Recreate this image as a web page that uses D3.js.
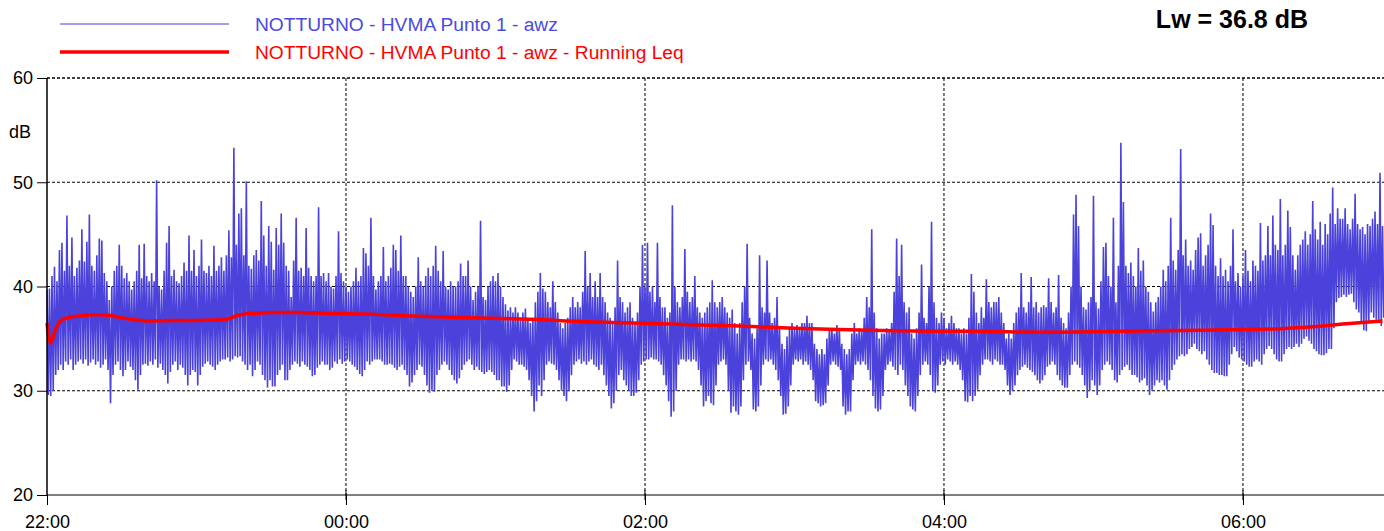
<!DOCTYPE html>
<html lang="it">
<head>
<meta charset="UTF-8">
<title>NOTTURNO - HVMA Punto 1</title>
<script src="https://d3js.org/d3.v7.min.js"></script>
<style>
  body { margin: 0; background: #fff; }
  svg { display: block; font-family: "Liberation Sans", Arial, sans-serif; }
  .asse text { font-size: 18px; fill: #000; }
  .asse line { stroke: #000; }
</style>
</head>
<body>
<svg id="grafico"></svg>
<script>
// dati: un valore max e min per ogni minuto dalle 22:00
const livelliMax = [
  39.7,39.8,41.0,41.9,40.5,43.5,44.2,41.5,46.8,42.0, 44.7,41.0,41.8,42.5,45.5,42.4,44.3,46.9,42.0,41.5,
  43.0,44.6,44.4,41.3,40.5,38.7,40.0,41.5,42.0,44.0, 42.0,40.8,41.3,40.5,39.7,40.5,41.5,44.0,40.8,44.1,
  41.0,40.5,41.3,40.5,50.2,40.0,39.7,41.5,44.2,45.8, 41.0,41.6,40.5,40.3,41.0,42.3,41.5,44.9,41.5,43.5,
  41.0,42.0,44.5,41.5,41.3,42.0,41.0,43.9,41.5,42.0, 42.8,41.5,43.0,45.4,42.8,53.3,44.0,47.0,47.5,43.0,
  50.1,42.0,41.7,43.0,43.5,42.5,48.2,44.9,42.0,45.8, 44.3,41.6,45.6,44.0,47.0,44.2,42.0,41.5,39.0,42.5,
  46.6,41.5,41.8,41.0,45.6,41.8,41.0,40.5,41.0,47.6, 41.0,41.3,40.5,41.3,40.0,39.8,41.0,45.3,41.3,40.5,
  40.0,39.5,40.0,40.5,41.8,40.5,41.0,43.7,43.2,42.0, 46.6,41.0,39.7,40.5,41.0,43.8,40.5,41.0,41.8,44.0,
  43.5,41.5,44.9,41.0,41.0,40.0,39.5,39.0,40.0,42.8, 40.5,40.0,41.0,41.8,41.0,42.0,43.9,41.5,40.5,43.4,
  40.0,39.7,40.5,40.0,40.0,40.5,42.2,41.0,41.0,42.5, 40.0,38.7,39.5,40.0,46.3,39.0,38.7,40.0,40.5,41.0,
  40.5,41.3,40.0,39.0,38.3,37.7,38.0,37.5,38.0,37.5, 37.0,37.5,37.9,37.0,36.5,37.0,38.5,39.5,41.3,39.8,
  39.5,38.5,38.0,40.5,38.5,37.5,36.5,36.0,36.5,37.0, 38.0,39.0,38.0,38.5,38.0,39.5,43.4,40.0,41.3,39.0,
  40.5,39.0,41.3,39.0,38.5,37.5,37.0,36.5,38.0,42.5, 39.0,38.5,37.5,38.0,38.5,37.0,36.5,37.5,40.0,44.0,
  40.0,44.2,39.5,40.0,38.5,44.2,39.0,38.0,38.0,37.0, 37.5,47.8,40.0,38.5,38.0,39.0,43.6,39.5,38.5,39.0,
  41.0,38.0,37.5,37.0,37.5,38.0,38.5,40.6,38.5,38.0, 38.5,39.0,38.0,37.5,37.0,37.8,36.5,35.5,36.5,38.5,
  40.0,44.1,37.0,35.5,35.0,36.0,43.0,38.0,37.5,42.5, 37.5,36.5,37.0,39.0,36.0,34.5,34.0,35.2,36.0,36.5,
  36.0,36.3,36.0,36.5,36.5,37.2,36.5,36.5,34.5,34.0, 33.5,34.0,33.5,35.0,36.0,36.0,35.5,36.3,36.0,34.5,
  34.0,33.5,34.0,35.5,36.5,35.5,36.0,35.8,37.0,39.0, 38.0,45.5,37.5,36.0,35.0,35.5,35.5,36.0,35.8,36.5,
  39.5,44.6,41.0,44.0,38.5,37.5,38.0,35.5,35.0,36.0, 37.5,42.1,37.0,36.5,40.0,46.2,38.5,37.0,36.5,37.5,
  37.0,36.0,36.5,37.2,36.5,36.0,36.0,35.5,36.0,35.5, 37.0,41.2,39.5,37.5,36.5,38.0,37.0,40.7,38.5,38.0,
  38.5,38.5,39.0,37.5,36.5,35.0,35.5,35.0,36.5,37.5, 38.0,41.3,38.0,37.5,38.5,40.9,38.0,38.5,37.5,38.0,
  38.2,38.0,40.8,38.5,37.5,38.0,41.1,37.0,36.5,36.0, 37.5,40.0,46.9,48.8,45.8,40.0,38.0,37.8,38.5,39.0,
  48.7,38.5,37.9,40.5,43.8,44.2,41.0,40.0,46.6,38.5, 42.0,53.8,48.1,42.0,41.3,42.3,41.0,40.0,43.7,41.5,
  42.5,40.0,39.5,38.5,37.6,38.5,39.0,40.0,41.6,40.5, 42.0,46.6,42.5,41.6,43.5,53.2,43.0,44.5,42.0,42.5,
  41.6,43.5,44.7,45.1,42.0,43.0,44.0,47.0,45.9,42.0, 41.0,42.7,41.0,41.6,40.5,42.0,45.5,40.5,41.3,40.0,
  41.0,43.5,41.5,40.5,42.5,42.0,41.5,46.1,42.5,43.0, 45.8,43.0,46.8,44.0,43.5,48.4,43.0,44.0,47.3,45.7,
  43.0,41.6,43.0,44.0,44.5,45.3,44.0,45.0,48.2,45.5, 44.5,46.2,44.0,46.0,45.0,47.0,49.5,46.0,47.5,46.5,
  46.5,47.5,46.0,45.5,46.5,48.9,46.0,45.5,45.7,45.0, 46.0,45.8,46.5,47.2,46.0,50.9,45.8
];
const livelliMin = [
  29.6,29.5,30.0,31.5,32.0,32.5,32.0,32.8,32.5,33.0, 32.0,32.5,32.8,33.0,32.6,33.0,32.4,32.7,33.0,32.5,
  32.8,32.2,32.5,33.0,32.0,28.8,31.5,32.5,32.8,32.0, 31.4,32.0,32.8,32.3,32.0,31.0,30.1,31.5,32.5,32.6,
  32.4,32.8,32.5,33.0,32.2,32.6,32.0,31.5,30.7,31.8, 32.5,32.8,32.0,32.5,32.2,31.5,30.5,31.5,32.0,31.8,
  30.5,31.5,32.3,32.6,32.8,32.5,32.3,32.0,32.5,32.8, 33.0,33.0,33.2,32.8,33.0,33.3,33.2,33.3,32.8,32.5,
  32.0,32.5,31.4,32.0,32.8,32.5,31.5,31.0,30.3,31.0, 30.4,30.4,31.5,32.0,32.5,31.0,31.0,32.0,32.5,32.8,
  32.6,32.3,32.8,32.5,32.3,32.0,31.4,31.5,32.2,32.5, 32.8,32.5,32.5,32.0,32.2,32.8,32.6,33.0,32.6,32.8,
  33.0,32.8,32.5,32.3,32.0,31.6,31.4,32.0,32.8,32.5, 32.8,33.0,33.0,33.0,32.8,32.5,32.5,32.6,32.5,32.2,
  32.0,32.3,32.5,32.0,31.5,30.4,30.8,31.5,32.0,32.5, 32.3,31.5,30.5,29.8,30.0,29.9,31.5,32.0,32.5,32.8,
  32.5,32.0,31.5,31.0,30.7,31.2,32.0,32.5,32.8,33.0, 32.5,32.0,32.3,32.0,31.8,31.6,31.8,32.0,31.8,31.5,
  31.0,31.0,30.4,30.4,29.9,30.5,32.0,33.0,32.8,32.5, 32.5,32.3,32.0,31.0,29.5,28.0,29.0,30.5,29.5,31.0,
  32.5,32.8,32.6,32.5,32.0,31.0,30.0,29.5,29.0,30.0, 31.5,32.5,32.8,33.0,32.6,32.8,32.5,32.8,33.0,32.5,
  32.3,32.0,32.5,31.5,30.5,29.5,28.3,28.8,30.0,31.5, 32.0,31.0,30.5,30.0,29.5,29.5,29.8,31.0,32.5,32.8,
  33.0,33.0,33.2,33.0,33.0,32.8,32.5,31.5,30.5,29.0, 27.5,28.0,30.0,32.5,33.0,33.0,32.8,33.0,32.8,33.0,
  32.8,32.0,30.5,28.5,29.0,29.5,28.8,28.6,30.5,32.5, 32.8,33.0,32.5,30.0,27.9,28.5,28.0,27.7,28.5,31.0,
  32.5,32.8,32.0,28.2,28.0,28.5,30.5,32.5,33.0,32.8, 33.0,32.5,32.0,31.0,29.5,27.7,27.8,28.5,30.5,32.5,
  33.0,32.8,33.0,32.5,32.8,32.5,32.0,31.0,29.0,28.8, 28.5,28.6,28.8,30.5,32.5,32.8,32.5,32.3,32.0,28.5,
  27.7,28.0,28.0,31.0,32.5,32.8,32.5,32.8,32.5,32.0, 31.0,29.5,28.3,28.0,28.2,29.5,32.0,32.5,32.8,32.3,
  32.0,31.5,32.5,32.0,30.5,29.5,28.5,28.2,28.0,29.5, 31.5,32.5,32.8,32.5,31.5,30.0,29.8,30.5,32.5,32.8,
  32.5,33.0,32.8,32.5,32.8,32.5,32.0,31.0,29.0,28.9, 29.5,29.0,29.5,30.1,31.5,32.5,33.0,33.0,32.8,32.5,
  33.0,32.8,32.5,32.5,32.0,30.5,29.6,30.0,30.5,31.5, 32.0,32.3,32.5,32.2,32.0,31.8,31.5,31.0,30.7,31.0,
  31.5,32.3,32.5,32.8,32.5,31.5,31.0,30.5,30.3,30.3, 31.5,32.5,32.8,32.5,32.2,31.5,30.5,29.3,30.0,31.0,
  30.5,29.6,30.5,32.0,32.5,32.8,32.5,32.0,31.0,30.8, 31.5,32.0,32.3,32.5,32.0,31.5,31.5,31.3,30.8,31.0,
  31.2,30.5,29.6,30.0,30.5,31.0,30.8,31.0,30.5,30.1, 31.0,32.0,32.5,33.0,33.3,33.5,33.3,33.5,34.0,34.2,
  34.5,34.0,33.8,33.5,33.8,33.0,32.5,32.0,31.7,31.7, 31.5,31.5,31.4,31.4,32.5,33.5,34.2,33.8,33.2,33.0,
  32.8,32.5,32.3,32.3,32.8,33.0,32.8,32.5,33.5,34.0, 34.3,34.0,33.5,33.0,32.8,32.8,33.5,34.0,34.2,34.0,
  34.2,34.5,34.2,34.5,35.0,35.2,34.8,34.5,34.0,33.8, 33.5,33.4,33.4,33.6,34.0,34.0,36.0,38.5,38.9,39.0,
  39.2,39.0,39.2,39.3,38.5,37.8,37.5,36.5,35.8,35.7, 36.5,37.5,37.0,36.8,36.5,36.2,37.0
];

// Running Leq: minuti dalle 22:00 e valore in dB
const leqMinuti = [0,0.5,1,1.5,2,3,4,5,6,8,10,14,18,22,26,30,35,40,50,60,70,72,74,76,80,90,100,116,130,143,156,170,186,
  200,208,220,235,250,262,278,290,300,314,330,341,355,370,385,406,420,431,445,463,475,486,495,505,512,520,528,536];
const leqValori = [36.5,35.5,34.8,34.6,34.8,35.6,36.2,36.6,36.8,37.0,37.1,37.2,37.3,37.3,37.2,37.0,36.8,36.7,36.75,36.75,36.8,36.85,37.0,37.2,37.4,37.5,37.5,37.4,37.35,37.2,37.1,37.0,36.9,
  36.8,36.7,36.6,36.5,36.4,36.3,36.2,36.1,36.0,35.9,35.8,35.75,35.7,35.7,35.65,35.6,35.65,35.7,35.75,35.8,35.85,35.9,35.95,36.1,36.2,36.4,36.55,36.7];

const tickDb = [20, 30, 40, 50, 60];
const etichetteLegenda = ["NOTTURNO - HVMA Punto 1 - awz", "NOTTURNO - HVMA Punto 1 - awz - Running Leq"];
const testoLw = "Lw = 36.8 dB";

const blu = "#4a42da";
const rosso = "#ff0000";

// dimensioni
const largura = 1384, altura = 531;
const margem = { topo: 78, direita: 0, inferior: 36, esquerda: 47 };

const svg = d3.select("#grafico").attr("width", largura).attr("height", altura);

const inizio = new Date(2024, 0, 1, 22, 0);
const minuto = 60000;
const aMinuti = m => new Date(+inizio + m * minuto);

const x = d3.scaleTime()
  .domain([inizio, aMinuti(536.6)])
  .range([margem.esquerda, largura - margem.direita]);
const y = d3.scaleLinear()
  .domain([20, 60])
  .range([altura - margem.inferior, margem.topo]);

const ore2 = d3.timeHour.every(2).range(inizio, aMinuti(537));
const oreDispari = d3.timeHour.every(2).range(aMinuti(60), aMinuti(537));

// griglia
svg.append("g").selectAll("line").data(tickDb.slice(1)).enter().append("line")
  .attr("x1", margem.esquerda).attr("x2", largura)
  .attr("y1", d => y(d)).attr("y2", d => y(d))
  .attr("stroke", "#000").attr("stroke-dasharray", "3,2");
svg.append("g").selectAll("line").data(ore2.slice(1)).enter().append("line")
  .attr("x1", d => x(d)).attr("x2", d => x(d))
  .attr("y1", y(60)).attr("y2", y(20))
  .attr("stroke", "#000").attr("stroke-dasharray", "3,2");

// serie blu: max e min di ogni minuto alternati
const punti = [];
livelliMax.forEach((v, i) => {
  punti.push([i, v]);
  punti.push([i + 0.5, livelliMin[i]]);
});
const linea = d3.line().x(d => x(aMinuti(d[0]))).y(d => y(d[1]));

svg.append("path").datum(punti)
  .attr("d", linea).attr("fill", "none")
  .attr("stroke", blu).attr("stroke-width", 1.6);

// running Leq
svg.append("path").datum(leqMinuti.map((m, i) => [m, leqValori[i]]))
  .attr("d", linea).attr("fill", "none")
  .attr("stroke", rosso).attr("stroke-width", 3.5).attr("stroke-linejoin", "round");

// assi
const assex = svg.append("g").attr("class", "asse")
  .attr("transform", `translate(0, ${y(20)})`)
  .call(d3.axisBottom(x).tickValues(ore2).tickFormat(d3.timeFormat("%H:%M")).tickSize(10).tickPadding(10));
assex.select(".domain").remove();
svg.append("g").selectAll("line").data(oreDispari).enter().append("line")
  .attr("x1", d => x(d)).attr("x2", d => x(d))
  .attr("y1", y(20) - 5).attr("y2", y(20) + 5).attr("stroke", "#000");

const assey = svg.append("g").attr("class", "asse")
  .attr("transform", `translate(${margem.esquerda}, 0)`)
  .call(d3.axisLeft(y).tickValues(tickDb).tickSize(10).tickPadding(4));
assey.select(".domain").remove();

svg.append("line").attr("x1", margem.esquerda).attr("x2", margem.esquerda)
  .attr("y1", y(60)).attr("y2", y(20)).attr("stroke", "#000").attr("stroke-width", 1.5);
svg.append("line").attr("x1", margem.esquerda).attr("x2", largura)
  .attr("y1", y(20)).attr("y2", y(20)).attr("stroke", "#000");
svg.append("line").attr("x1", margem.esquerda).attr("x2", largura)
  .attr("y1", y(60)).attr("y2", y(60)).attr("stroke", "#000").attr("stroke-dasharray", "3,2");

svg.append("text").attr("x", 9).attr("y", 138).attr("font-size", 18).text("dB");

// legenda
const legenda = svg.append("g");
[[blu, 1], [rosso, 3.5]].forEach((s, i) => {
  legenda.append("line").attr("x1", 60).attr("x2", 229)
    .attr("y1", 24 + i * 28).attr("y2", 24 + i * 28)
    .attr("stroke", s[0]).attr("stroke-width", s[1]);
  legenda.append("text").attr("x", 255).attr("y", 31 + i * 28)
    .attr("font-size", 19.2).attr("fill", i ? rosso : "#4a4ae0")
    .text(etichetteLegenda[i]);
});

svg.append("text").attr("x", 1308).attr("y", 28).attr("text-anchor", "end")
  .attr("font-size", 25).attr("font-weight", "bold").text(testoLw);
</script>
</body>
</html>
